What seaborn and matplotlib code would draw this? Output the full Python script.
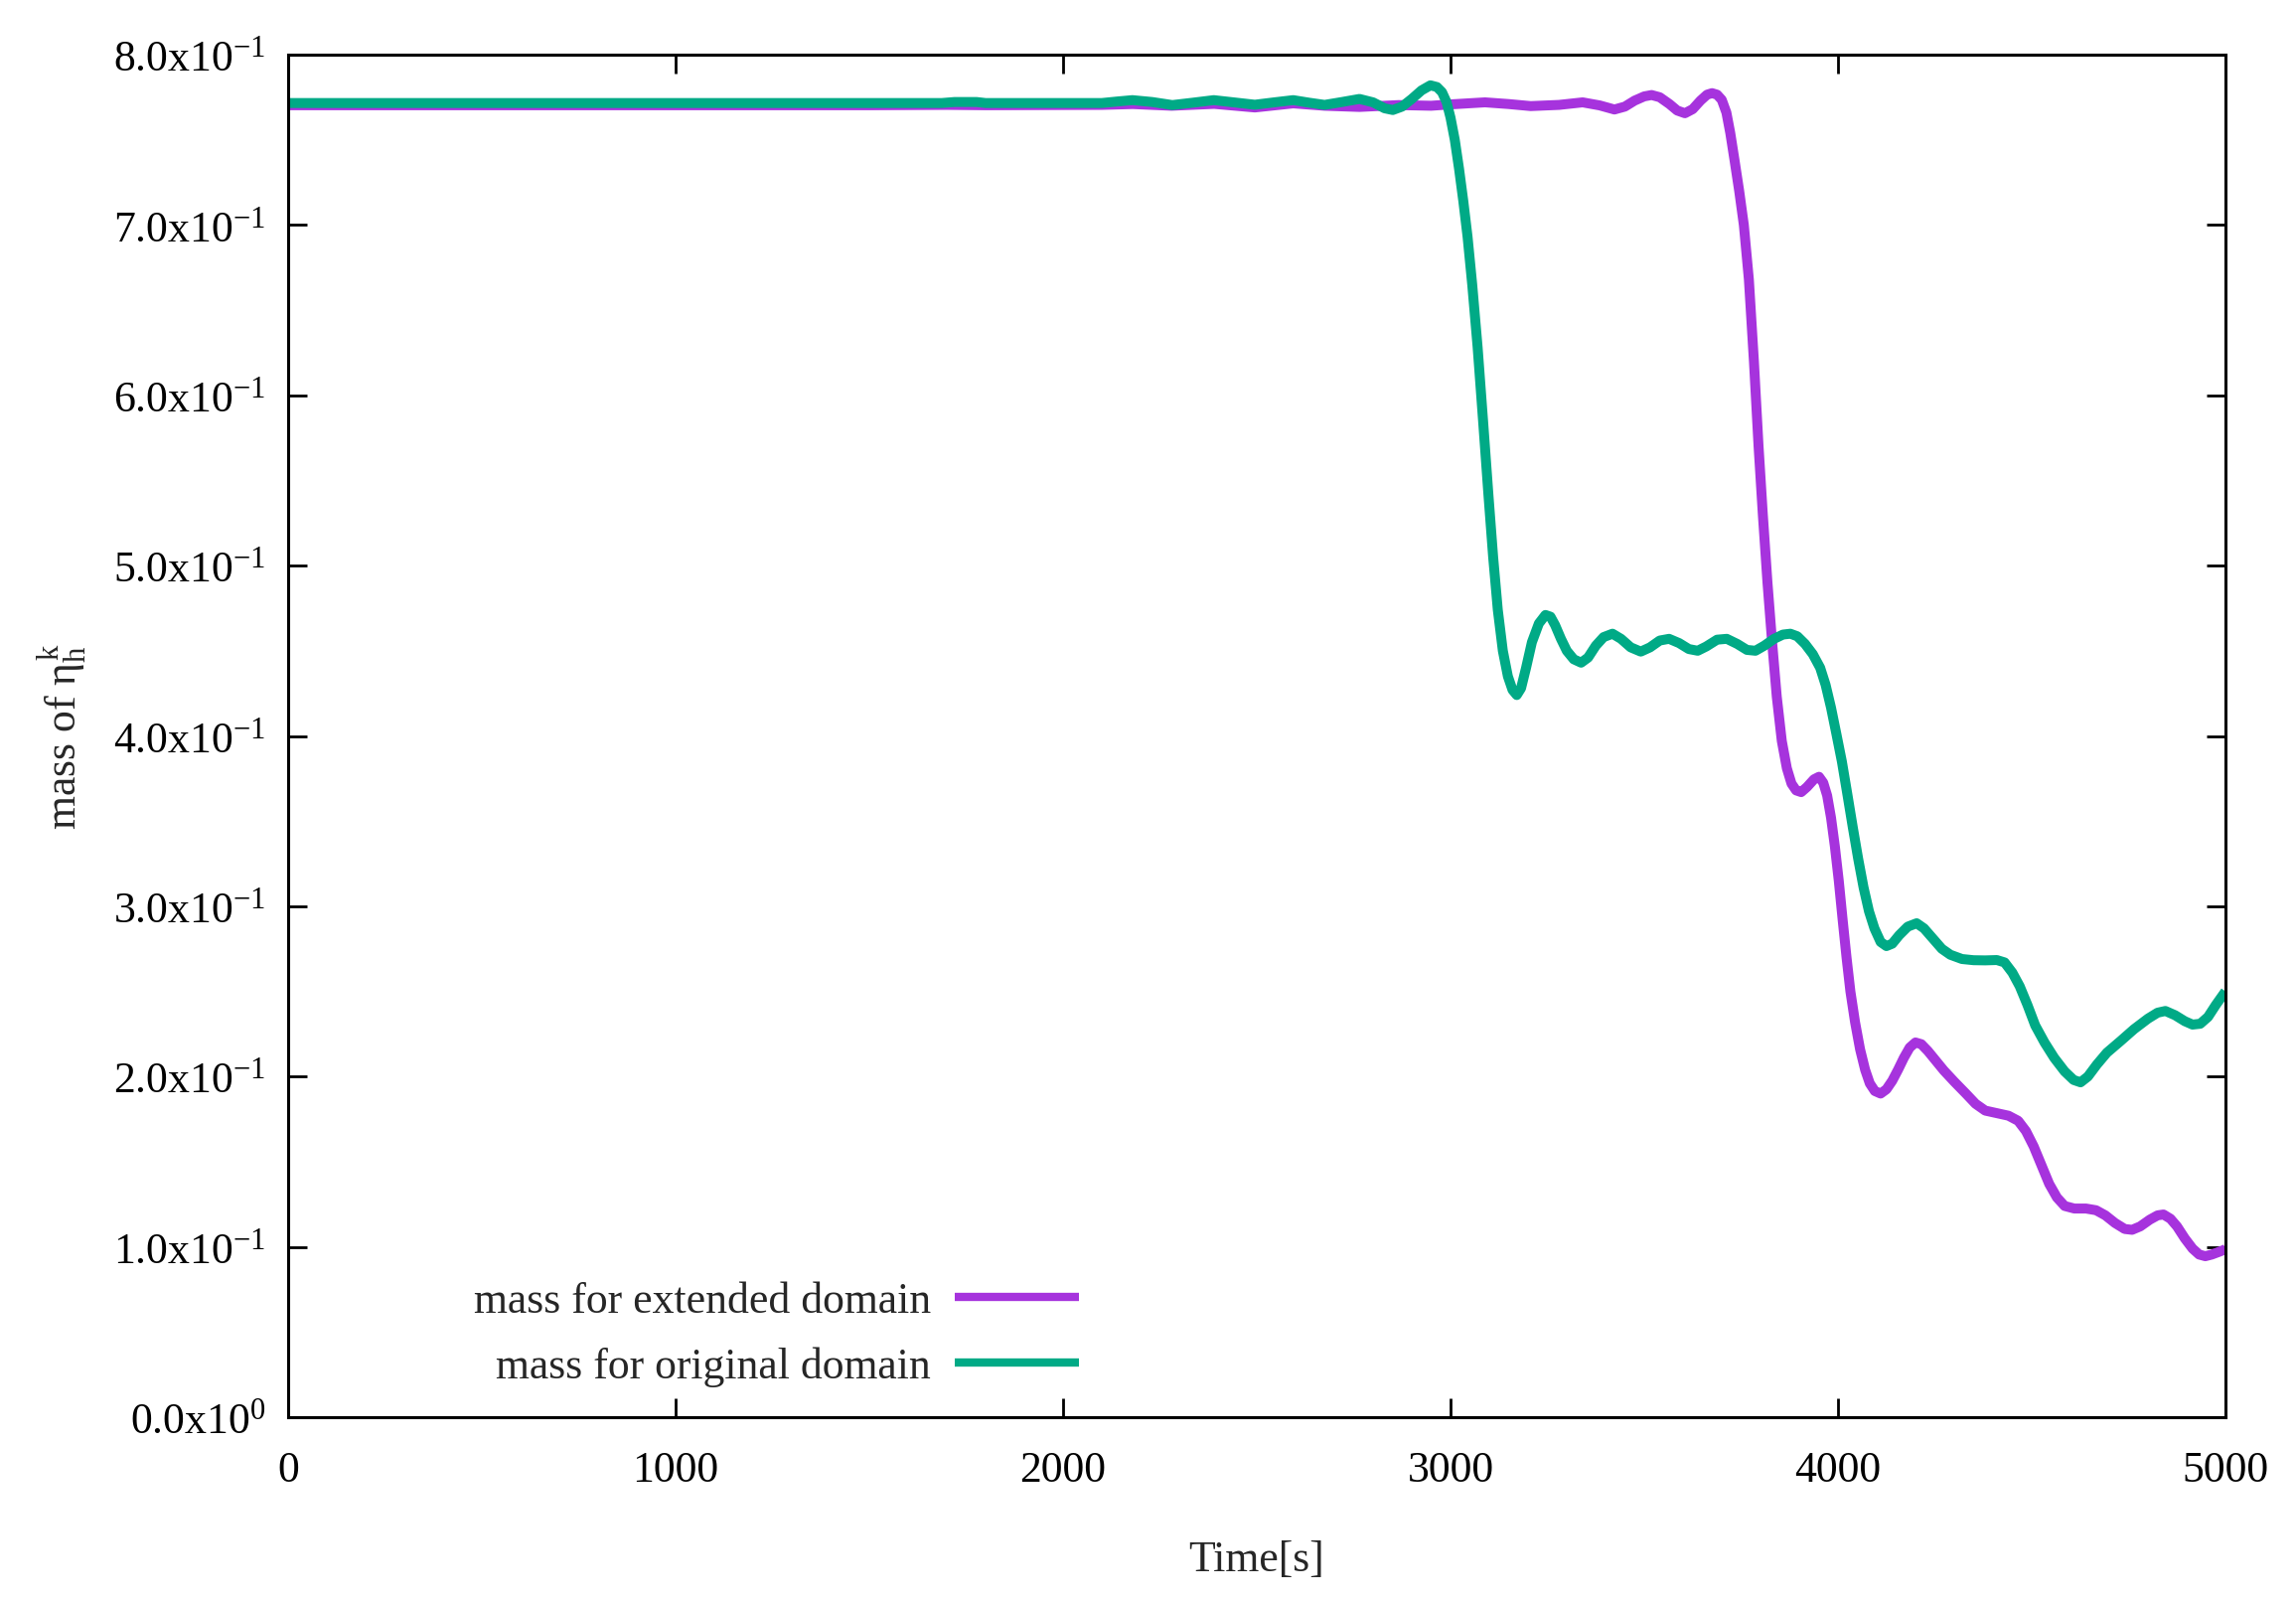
import matplotlib
matplotlib.use("Agg")
import matplotlib.pyplot as plt
import seaborn as sns
import pandas as pd

# ---- data ----
t_ext = [0, 500, 1000, 1500, 1700, 1800, 2100, 2180, 2280, 2390, 2495, 2594, 2675,
         2765, 2866, 2950, 3000, 3089, 3150, 3207, 3280, 3341, 3385, 3423, 3450,
         3475, 3500, 3519, 3540, 3565, 3585, 3605, 3625, 3645, 3662, 3675, 3688,
         3700, 3712, 3722, 3733, 3745, 3757, 3770, 3783, 3795, 3806, 3818, 3830,
         3842, 3855, 3868, 3880, 3892, 3905, 3920, 3938, 3951, 3962, 3972, 3982,
         3992, 4002, 4012, 4022, 4032, 4044, 4057, 4070, 4082, 4095, 4110, 4125,
         4140, 4155, 4170, 4185, 4200, 4215, 4232, 4250, 4273, 4300, 4330, 4355,
         4380, 4410, 4440, 4465, 4485, 4505, 4525, 4545, 4565, 4585, 4610, 4640,
         4666, 4690, 4715, 4740, 4759, 4780, 4805, 4825, 4840, 4858, 4875, 4895,
         4915, 4932, 4948, 4965, 4985, 5000]
m_ext = [0.7703, 0.7703, 0.7703, 0.7703, 0.7705, 0.7703, 0.7705, 0.7710, 0.7700,
         0.7711, 0.7690, 0.7714, 0.7700, 0.7693, 0.7704, 0.7700, 0.7708, 0.7720,
         0.7710, 0.7698, 0.7705, 0.7720, 0.7702, 0.7678, 0.7695, 0.7730, 0.7755,
         0.7763, 0.7750, 0.7710, 0.7672, 0.7656, 0.7680, 0.7730, 0.7765, 0.7774,
         0.7765, 0.7735, 0.7660, 0.7540, 0.7380, 0.7200, 0.7000, 0.6680, 0.6200,
         0.5700, 0.5300, 0.4900, 0.4550, 0.4230, 0.3970, 0.3810, 0.3720, 0.3680,
         0.3670, 0.3700, 0.3745, 0.3760, 0.3725, 0.3650, 0.3520, 0.3350, 0.3150,
         0.2920, 0.2700, 0.2500, 0.2320, 0.2160, 0.2040, 0.1960, 0.1915, 0.1900,
         0.1925, 0.1975, 0.2040, 0.2110, 0.2170, 0.2200, 0.2190, 0.2150, 0.2100,
         0.2036, 0.1970, 0.1900, 0.1840, 0.1800, 0.1785, 0.1770, 0.1740, 0.1680,
         0.1590, 0.1480, 0.1370, 0.1290, 0.1240, 0.1225, 0.1225, 0.1215, 0.1185,
         0.1140, 0.1105, 0.1100, 0.1120, 0.1160, 0.1185, 0.1190, 0.1165, 0.1120,
         0.1050, 0.0990, 0.0955, 0.0945, 0.0955, 0.0972, 0.0986]

t_org = [0, 1000, 1687, 1720, 1777, 1800, 2100, 2140, 2179, 2230, 2282, 2335, 2389,
         2440, 2495, 2545, 2594, 2635, 2675, 2720, 2765, 2800, 2830, 2851, 2875,
         2900, 2925, 2948, 2965, 2978, 2990, 3000, 3011, 3022, 3033, 3044, 3056,
         3070, 3084, 3098, 3110, 3122, 3135, 3148, 3160, 3171, 3182, 3195, 3210,
         3228, 3245, 3258, 3270, 3285, 3300, 3318, 3337, 3355, 3375, 3395, 3418,
         3440, 3465, 3491, 3515, 3540, 3564, 3590, 3615, 3638, 3660, 3688, 3713,
         3740, 3765, 3787, 3810, 3835, 3858, 3877, 3895, 3915, 3935, 3954, 3968,
         3982, 3996, 4010, 4024, 4038, 4052, 4066, 4080, 4094, 4110, 4125, 4140,
         4158, 4180, 4203, 4222, 4245, 4268, 4290, 4320, 4350, 4380, 4410, 4430,
         4450, 4469, 4489, 4509, 4533, 4558, 4585, 4608, 4626, 4645, 4668, 4694,
         4730, 4764, 4800, 4825, 4845, 4870, 4895, 4915, 4935, 4955, 4975, 5000]
m_org = [0.7716, 0.7716, 0.7716, 0.7722, 0.7722, 0.7716, 0.7716, 0.7725, 0.7733,
         0.7722, 0.7704, 0.7718, 0.7733, 0.7720, 0.7706, 0.7720, 0.7733, 0.7718,
         0.7705, 0.7722, 0.7740, 0.7720, 0.7685, 0.7675, 0.7695, 0.7740, 0.7790,
         0.7820, 0.7810, 0.7780, 0.7720, 0.7630, 0.7500, 0.7330, 0.7140, 0.6930,
         0.6650, 0.6280, 0.5850, 0.5410, 0.5050, 0.4740, 0.4500, 0.4350, 0.4270,
         0.4240, 0.4280, 0.4400, 0.4550, 0.4660, 0.4710, 0.4700, 0.4650, 0.4570,
         0.4500, 0.4450, 0.4430, 0.4460, 0.4530, 0.4580, 0.4600, 0.4570, 0.4520,
         0.4495, 0.4520, 0.4560, 0.4570, 0.4545, 0.4510, 0.4500, 0.4525, 0.4565,
         0.4570, 0.4540, 0.4505, 0.4500, 0.4530, 0.4570, 0.4595, 0.4600, 0.4585,
         0.4540, 0.4480, 0.4400, 0.4300, 0.4166, 0.4010, 0.3850, 0.3660, 0.3466,
         0.3280, 0.3110, 0.2970, 0.2870, 0.2790, 0.2766, 0.2780, 0.2830, 0.2880,
         0.2900, 0.2870, 0.2810, 0.2750, 0.2715, 0.2690, 0.2683, 0.2682, 0.2684,
         0.2670, 0.2610, 0.2530, 0.2420, 0.2300, 0.2200, 0.2110, 0.2030, 0.1980,
         0.1966, 0.2000, 0.2070, 0.2140, 0.2210, 0.2278, 0.2340, 0.2375, 0.2385,
         0.2360, 0.2325, 0.2305, 0.2310, 0.2350, 0.2420, 0.2500]

series_names = ["mass for extended domain", "mass for original domain"]
series_colors = ["#a633dd", "#00aa86"]
x_ticks = [0, 1000, 2000, 3000, 4000, 5000]
y_ticks = [0.0, 0.1, 0.2, 0.3, 0.4, 0.5, 0.6, 0.7, 0.8]
y_tick_labels = ["0.0x10$^{0}$", "1.0x10$^{-1}$", "2.0x10$^{-1}$", "3.0x10$^{-1}$",
                 "4.0x10$^{-1}$", "5.0x10$^{-1}$", "6.0x10$^{-1}$", "7.0x10$^{-1}$",
                 "8.0x10$^{-1}$"]
x_label = "Time[s]"
y_label = r"mass of $\eta_{h}^{k}$"

# ---- styling ----
sns.set_theme(style="white")
plt.rcParams["font.family"] = ["Liberation Serif", "DejaVu Serif"]
plt.rcParams["mathtext.fontset"] = "custom"
plt.rcParams["mathtext.rm"] = "Liberation Serif"
plt.rcParams["mathtext.it"] = "Liberation Serif"
plt.rcParams["mathtext.bf"] = "Liberation Serif:bold"
FS = 31.5

df = pd.concat([
    pd.DataFrame({"t": t_ext, "m": m_ext, "series": series_names[0]}),
    pd.DataFrame({"t": t_org, "m": m_org, "series": series_names[1]}),
], ignore_index=True)

fig = plt.figure(figsize=(23.11, 16.15), dpi=100)
ax = fig.add_axes([290 / 2311, 1 - 1427 / 1615, (2240 - 290) / 2311, (1427 - 56) / 1615])

sns.lineplot(data=df, x="t", y="m", hue="series", hue_order=series_names,
             palette=series_colors, estimator=None, sort=False, linewidth=7.2,
             ax=ax, legend=True)
for ln in ax.get_lines():
    ln.set_solid_joinstyle("round")
    ln.set_solid_capstyle("butt")

ax.set_xlim(0, 5000)
ax.set_ylim(0, 0.8)
ax.set_xticks(x_ticks)
ax.set_xticklabels([str(v) for v in x_ticks])
ax.set_yticks(y_ticks)
ax.set_yticklabels(y_tick_labels)
ax.tick_params(axis="both", which="major", direction="in", length=13.7, width=2.0,
               labelsize=FS, color="black", labelcolor="black",
               top=True, right=True, bottom=True, left=True)
ax.tick_params(axis="x", pad=24)
ax.tick_params(axis="y", pad=16)
for sp in ax.spines.values():
    sp.set_visible(True)
    sp.set_color("black")
    sp.set_linewidth(2.2)

ax.set_xlabel(x_label, fontsize=FS)
ax.set_ylabel(y_label, fontsize=FS)
ax.xaxis.set_label_coords(0.5, -0.104)
ax.xaxis.label.set_va("center")
ax.yaxis.set_label_coords(-0.117, 0.5)
ax.yaxis.label.set_va("center")

handles, labels = ax.get_legend_handles_labels()
leg = ax.legend(handles, labels, loc="center right", bbox_to_anchor=(0.408, 0.061),
                frameon=False, fontsize=FS, markerfirst=False, handlelength=2.85,
                handletextpad=0.55, labelspacing=0.58, borderpad=0, borderaxespad=0)
for h in leg.legend_handles:
    h.set_linewidth(6.0)

fig.savefig("out.png", dpi=100)
